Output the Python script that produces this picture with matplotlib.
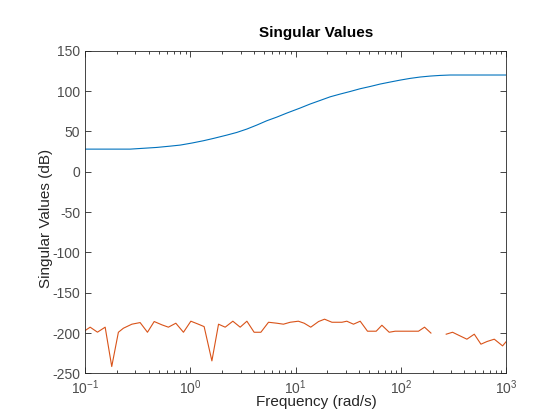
import numpy as np
import matplotlib.pyplot as plt
from matplotlib.ticker import LogLocator, NullFormatter

plt.rcParams['font.family'] = ['Liberation Sans', 'DejaVu Sans']
plt.rcParams['axes.unicode_minus'] = False

# Singular value 1 (blue)
sv1_freq = [0.1, 0.268, 0.385, 0.48, 0.643, 0.8, 1.03, 1.33, 1.66, 2.22,
            2.76, 3.44, 4.27, 5.32, 6.62, 8.24, 11.0, 13.7, 17.1, 21.3,
            26.5, 33.0, 41.0, 51.1, 63.5, 79.1, 98.4, 122, 152, 190,
            236, 294, 1000]
sv1_db = [28.1, 28.1, 29.4, 30.2, 31.8, 33.1, 35.6, 38.5, 41.4, 45.5,
          48.8, 53.0, 57.9, 63.3, 67.8, 72.8, 79.0, 84.0, 88.5, 93.0,
          96.4, 99.6, 103.0, 105.8, 108.8, 111.3, 113.7, 115.8, 117.5, 118.7,
          119.5, 120.0, 120.0]

# Singular value 2 (red, numerical noise floor; nan = missing sample)
sv2_freq = [0.1, 0.1116, 0.131, 0.155, 0.179, 0.207, 0.231, 0.278, 0.333, 0.391,
            0.453, 0.536, 0.618, 0.727, 0.859, 1.01, 1.19, 1.35, 1.60, 1.85,
            2.14, 2.53, 2.97, 3.44, 4.03, 4.67, 5.52, 6.63, 7.65, 8.87,
            10.6, 12.05, 13.9, 16.5, 18.8, 22.1, 27.5, 30.6, 35.4, 41.0,
            48.1, 58.2, 65.9, 77.3, 88.1, 146.8, 167.5, 192.6, 228, 269,
            309, 352, 423, 497, 575, 656, 770, 923, 1000]
sv2_db = [-196.9, -192.7, -198.9, -192.7, -241.5, -199.0, -194.0, -189.0, -187.0, -199.0,
          -185.7, -189.8, -192.7, -187.8, -199.0, -185.3, -189.0, -192.0, -234.5, -189.0,
          -192.7, -185.3, -192.7, -185.3, -199.0, -199.0, -186.6, -187.8, -189.0, -186.6,
          -185.3, -187.8, -192.7, -185.7, -182.8, -186.6, -186.6, -185.3, -189.0, -185.3,
          -197.7, -197.7, -190.3, -199.0, -197.7, -197.7, -192.7, -200.0, np.nan, -201.4,
          -199.0, -202.6, -207.6, -201.4, -213.8, -210.5, -207.6, -215.9, -210.5]

fig = plt.figure(figsize=(5.6, 4.2), dpi=100)
ax = fig.add_axes([0.152, 0.111, 0.752, 0.768])

ax.semilogx(sv1_freq, sv1_db, color='#0072BD', linewidth=0.8)
ax.semilogx(sv2_freq, sv2_db, color='#D95319', linewidth=0.8)

ax.set_xlim(0.1, 1000)
ax.set_ylim(-250, 150)
ax.set_yticks(np.arange(-250, 151, 50))
ax.xaxis.set_minor_locator(LogLocator(base=10, subs=np.arange(2, 10)))
ax.xaxis.set_minor_formatter(NullFormatter())

axis_color = '#262626'
for s in ax.spines.values():
    s.set_color(axis_color)
    s.set_linewidth(0.6)
ax.tick_params(which='both', direction='in', top=True, right=True,
               colors=axis_color, labelcolor='#4d4d4d', labelsize=10, width=0.6)
ax.tick_params(which='major', length=4)
ax.tick_params(which='minor', length=2)

ax.set_xlabel('Frequency (rad/s)', fontsize=11, color=axis_color)
ax.xaxis.set_label_coords(0.549, -0.068)
ax.set_ylabel('Singular Values (dB)', fontsize=11, color=axis_color, va='center')
ax.yaxis.set_label_coords(-0.093, 0.48)
ax.set_title('Singular Values', fontsize=11, fontweight='bold', color='black',
             x=0.549, pad=10)

fig.savefig('out.png', dpi=100)
